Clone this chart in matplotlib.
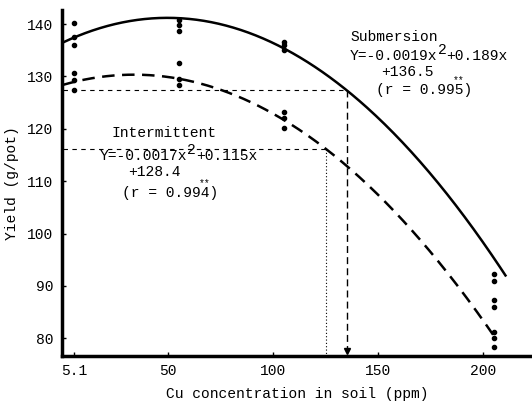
import matplotlib
matplotlib.use("Agg")
import matplotlib.pyplot as plt
import numpy as np

plt.rcParams['font.family'] = ['Liberation Mono', 'DejaVu Sans Mono']

# ---- data ----
sub_x = [5.1, 5.1, 5.1, 55.1, 55.1, 55.1, 105.1, 105.1, 105.1, 205.1, 205.1, 205.1, 205.1]
sub_y = [140.2, 137.6, 136.0, 140.8, 139.8, 138.7, 136.6, 136.0, 135.0, 92.2, 91.0, 87.3, 85.9]
int_x = [5.1, 5.1, 5.1, 55.1, 55.1, 55.1, 105.1, 105.1, 105.1, 205.1, 205.1, 205.1]
int_y = [130.6, 129.3, 127.4, 132.5, 129.6, 128.3, 123.2, 122.0, 120.1, 81.2, 80.0, 78.3]

sub_coef = [-0.0019, 0.189, 136.5]
int_coef = [-0.0017, 0.115, 128.4]
sub_range = [0, 211]
int_range = [0, 206]

sub_guide_x = 135
int_guide_x = 125

xticks = [5.1, 50, 100, 150, 200]
xticklabels = ["5.1", "50", "100", "150", "200"]
yticks = [80, 90, 100, 110, 120, 130, 140]

fs = 10.5
cw = 0.6 * fs  # character advance in points (monospace)

fig = plt.figure(figsize=(5.32, 4.07), dpi=100)
ax = fig.add_axes([62/532, 1-356/407, 1-62/532, (356-10)/407])
ax.set_xlim(-0.48, 223.3)
ax.set_ylim(76.6, 142.7)

xs = np.linspace(sub_range[0], sub_range[1], 300)
ax.plot(xs, np.polyval(sub_coef, xs), color='black', lw=1.8, solid_capstyle='butt')
xi = np.linspace(int_range[0], int_range[1], 300)
ax.plot(xi, np.polyval(int_coef, xi), color='black', lw=1.8, linestyle=(0, (5, 3)))

ax.plot(sub_x, sub_y, 'o', color='black', ms=3)
ax.plot(int_x, int_y, 'o', color='black', ms=3)

# guides
ys = np.polyval(sub_coef, sub_guide_x)
yi = np.polyval(int_coef, int_guide_x)
ax.plot([0, sub_guide_x], [ys, ys], color='black', lw=0.8, linestyle=(0, (4, 4)))
ax.plot([sub_guide_x, sub_guide_x], [ys, 76.6], color='black', lw=1.0, linestyle=(0, (5, 3)))
ax.plot([sub_guide_x], [77.6], marker='v', color='black', ms=4)
ax.plot([0, int_guide_x], [yi, yi], color='black', lw=0.8, linestyle=(0, (4, 4)))
ax.plot([int_guide_x, int_guide_x], [yi, 76.6], color='black', lw=0.8, linestyle=(0, (1, 2)))


def put(x, y, s, dx=0.0, dy=0.0, size=fs, ha='left'):
    ax.annotate(s, xy=(x, y), xytext=(dx, dy), textcoords='offset points',
                fontsize=size, ha=ha, va='center')


def equation(x, y, a, b):
    put(x, y, a)
    put(x, y, "2", dx=len(a) * cw, dy=4)
    put(x, y, b, dx=(len(a) + 1) * cw)


def rvalue(x, y, s):
    put(x, y, s)
    put(x, y, "**", dx=(len(s) - 1.5) * cw, dy=7.5, size=7, ha='center')


put(22.9, 119.2, "Intermittent")
equation(17.6, 114.8, "Y=-0.0017x", "+0.115x")
put(30.9, 111.8, "+128.4")
rvalue(28.1, 107.7, "(r = 0.994)")

put(136.7, 137.6, "Submersion")
equation(136.7, 134.0, "Y=-0.0019x", "+0.189x")
put(151.4, 130.8, "+136.5")
rvalue(149.0, 127.4, "(r = 0.995)")

ax.set_xticks(xticks)
ax.set_xticklabels(xticklabels)
ax.set_yticks(yticks)
ax.tick_params(direction='in', length=3, width=1, labelsize=fs, pad=6)
ax.spines['top'].set_visible(False)
ax.spines['right'].set_visible(False)
ax.spines['left'].set_linewidth(2.5)
ax.spines['bottom'].set_linewidth(2.5)
ax.set_xlabel("Cu concentration in soil (ppm)", fontsize=fs, labelpad=6)
ax.set_ylabel("Yield (g/pot)", fontsize=fs, labelpad=6)

fig.savefig("out.png", dpi=100)
